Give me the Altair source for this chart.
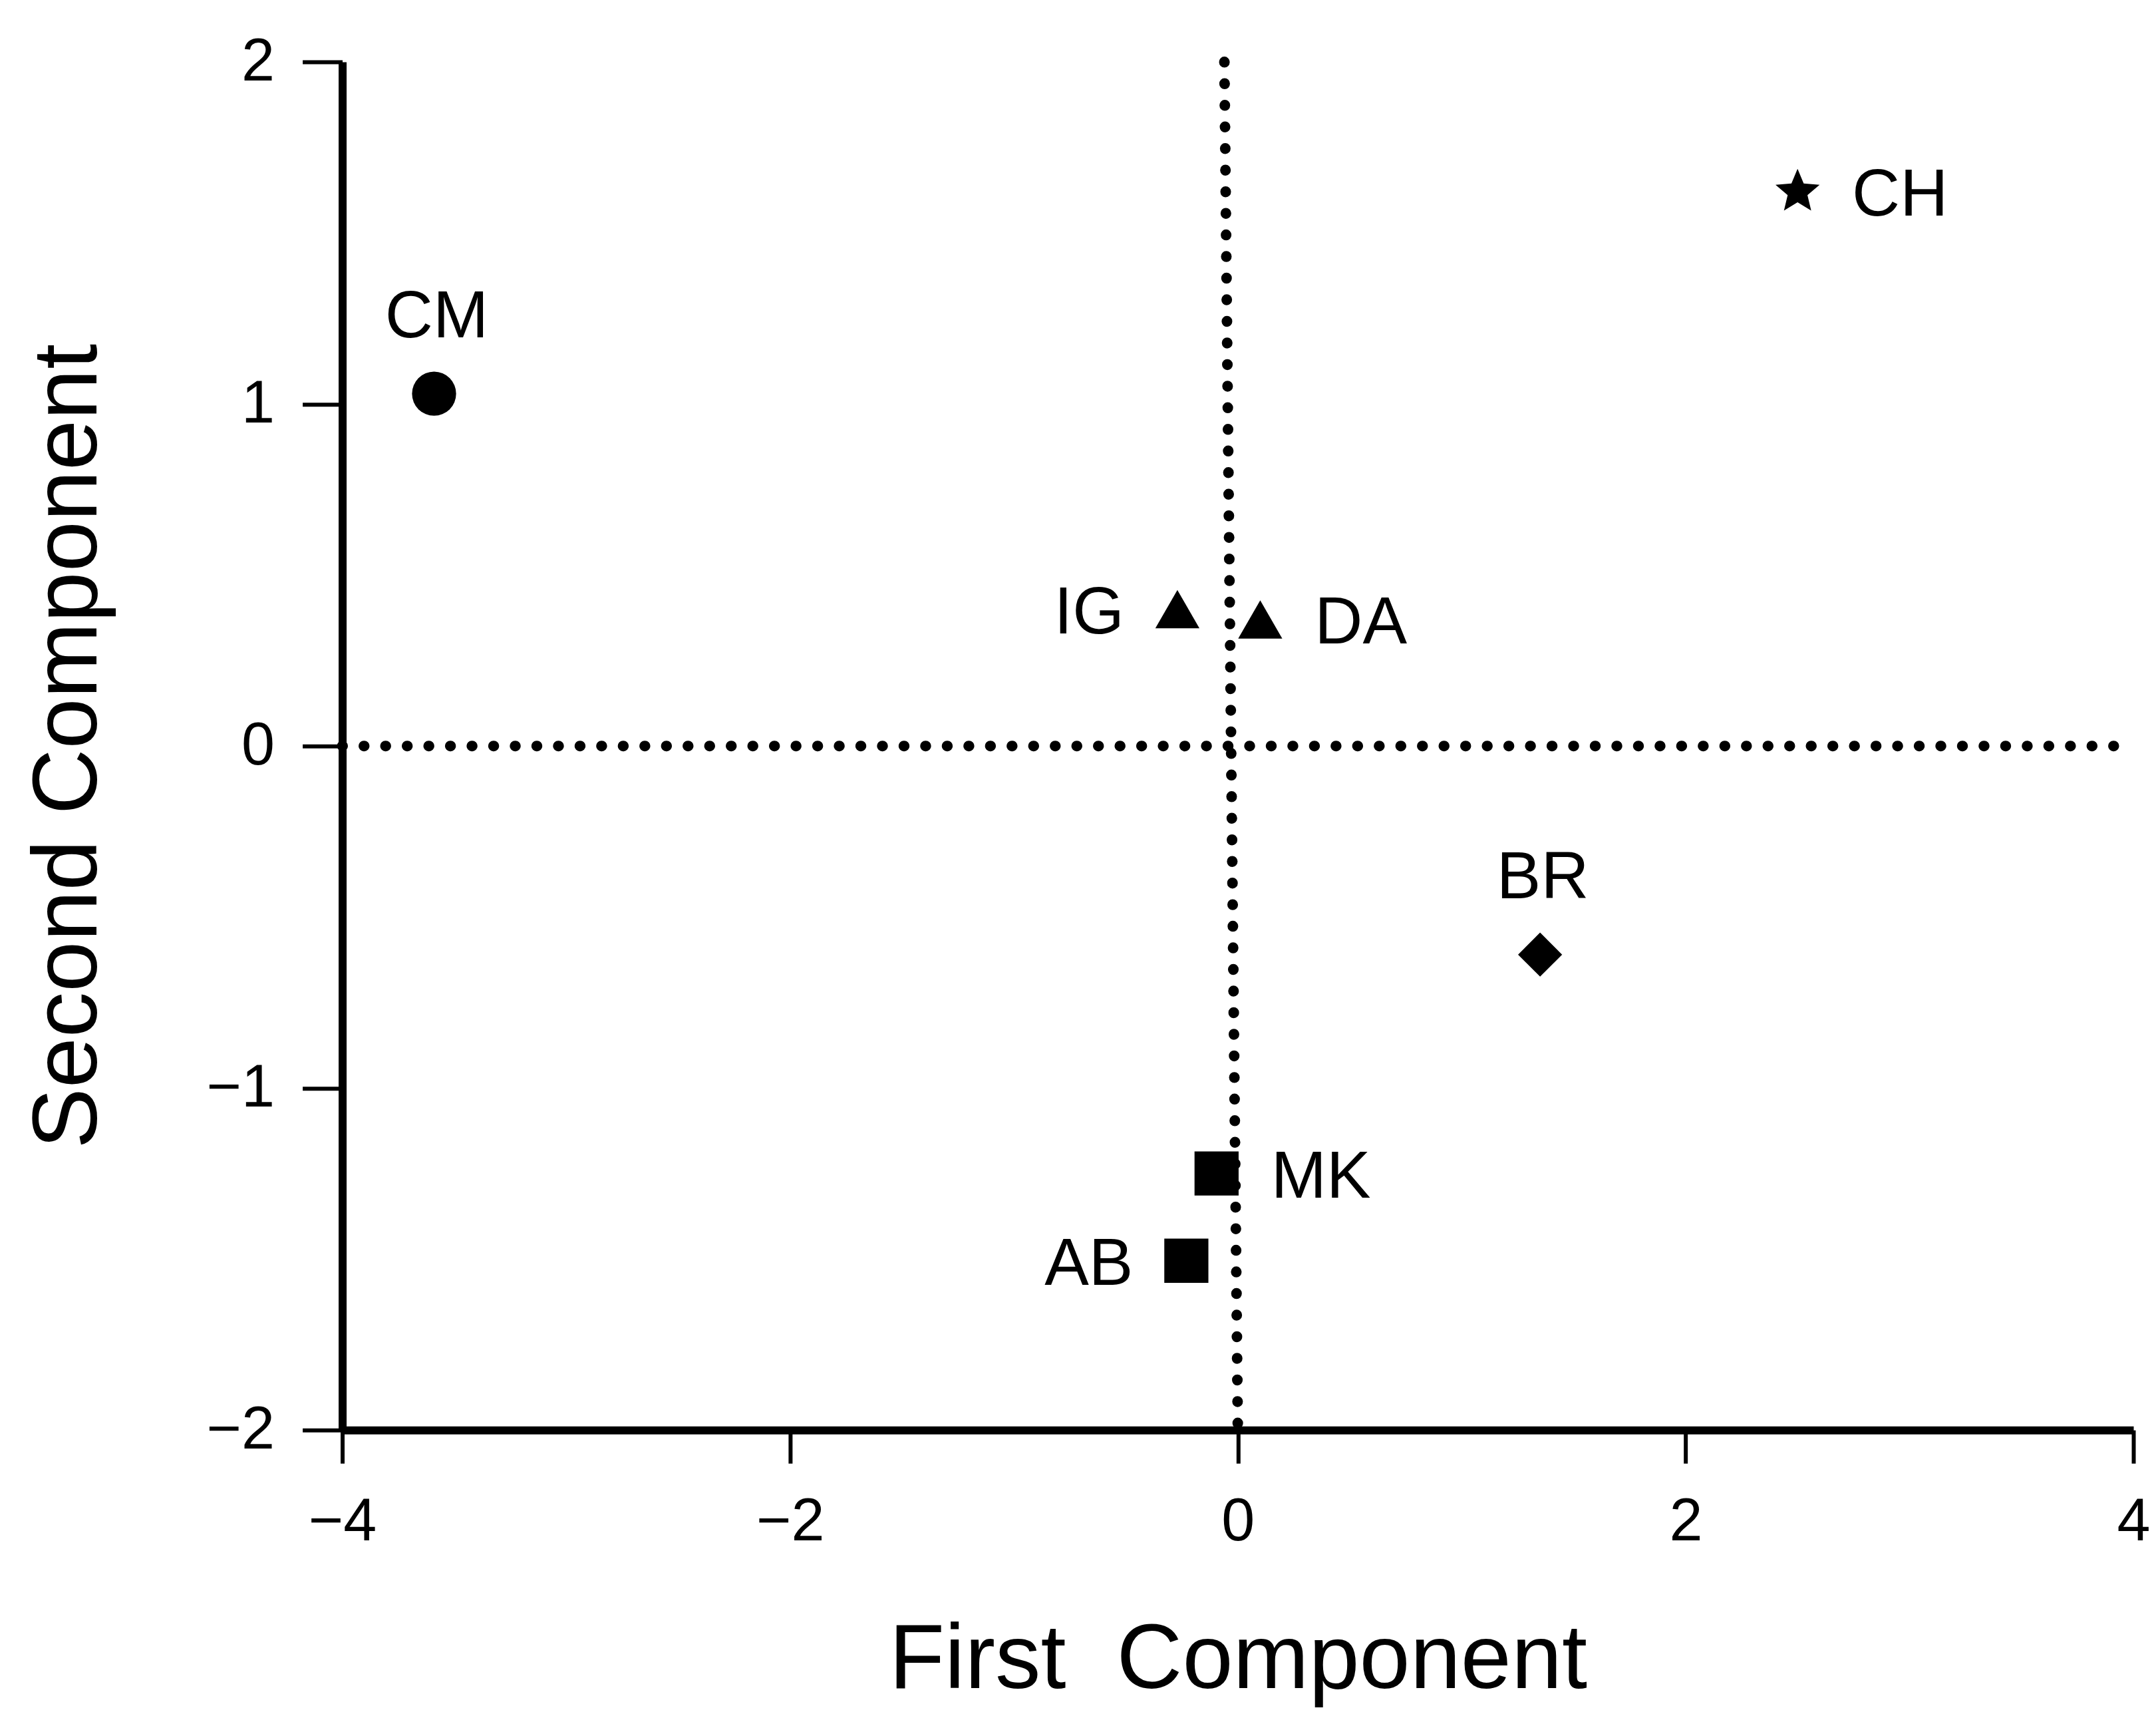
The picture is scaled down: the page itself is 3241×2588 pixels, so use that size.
import altair as alt
import pandas as pd

# ---- data ----
labels = ["CM", "CH", "IG", "DA", "BR", "MK", "AB"]
first_component = [-3.59, 2.50, -0.27, 0.10, 1.35, -0.095, -0.23]
second_component = [1.03, 1.62, 0.40, 0.37, -0.61, -1.25, -1.505]
groups = ["G1", "G2", "G3", "G3", "G4", "G5", "G5"]

x_ticks = [-4, -2, 0, 2, 4]
y_ticks = [-2, -1, 0, 1, 2]

# dotted reference lines (the vertical one is slightly slanted in the original)
vline_x = [-0.06, 0.0]   # x at top, x at bottom
vline_y = [2.0, -2.0]
hline_x = [-4.0, 4.0]
hline_y = [0.0]

# ---- styling ----
FONT = "Liberation Sans"
STAR = ("M0,-1.05L0.278,-0.382L1,-0.324L0.449,0.146L0.617,0.849L0,0.472"
        "L-0.617,0.849L-0.449,0.146L-1,-0.324L-0.278,-0.382Z")
group_domain = ["G1", "G2", "G3", "G4", "G5"]
shape_range = ["circle", STAR, "triangle-up", "diamond", "square"]

df = pd.DataFrame({"label": labels, "x": first_component,
                   "y": second_component, "group": groups})

xscale = alt.Scale(domain=[-4, 4], nice=False, zero=False)
yscale = alt.Scale(domain=[-2, 2], nice=False, zero=False)

x_axis = alt.Axis(values=x_ticks, format="d", title="First\u00a0 Component", grid=False,
                  domainColor="black", domainWidth=12, tickColor="black", tickWidth=6,
                  tickSize=50, labelPadding=44, labelFlush=False, labelOverlap=False,
                  labelFont=FONT, labelFontSize=90, labelColor="black",
                  titleFont=FONT, titleFontSize=137, titleFontWeight="normal",
                  titleColor="black", titleBaseline="alphabetic", titleY=388)
y_axis = alt.Axis(values=y_ticks, format="d", title="Second Component", grid=False,
                  domainColor="black", domainWidth=12, tickColor="black", tickWidth=6,
                  tickSize=60, labelPadding=42, labelFlush=False, labelOverlap=False,
                  labelFont=FONT, labelFontSize=90, labelColor="black",
                  titleFont=FONT, titleFontSize=137, titleFontWeight="normal",
                  titleColor="black", titleBaseline="alphabetic", titleX=-370)


def X(field):
    return alt.X(field, type="quantitative", scale=xscale, axis=x_axis)


def Y(field):
    return alt.Y(field, type="quantitative", scale=yscale, axis=y_axis)


dot_style = dict(color="black", strokeWidth=16, strokeDash=[0.5, 32], strokeCap="round")

hrule = alt.Chart(pd.DataFrame({"x": [hline_x[0]], "x2": [hline_x[1]], "y": hline_y})).mark_rule(
    **dot_style).encode(x=X("x"), x2="x2:Q", y=Y("y"))

vrule = alt.Chart(pd.DataFrame({"x": [vline_x[0]], "x2": [vline_x[1]],
                                "y": [vline_y[0]], "y2": [vline_y[1]]})).mark_rule(
    **dot_style).encode(x=X("x"), x2="x2:Q", y=Y("y"), y2="y2:Q")

points = alt.Chart(df).mark_point(filled=True, opacity=1, color="black", strokeWidth=0,
                                  size=4400).encode(
    x=X("x"), y=Y("y"),
    shape=alt.Shape("group:N", scale=alt.Scale(domain=group_domain, range=shape_range),
                    legend=None),
)

base_text = alt.Chart(df)
txt = dict(font=FONT, fontSize=100, color="black")
above = base_text.mark_text(align="center", baseline="alphabetic", dy=-85, dx=4, **txt).encode(
    x=X("x"), y=Y("y"), text="label:N").transform_filter(
    alt.FieldOneOfPredicate(field="label", oneOf=["CM", "BR"]))
right = base_text.mark_text(align="left", baseline="middle", dx=82, dy=6, **txt).encode(
    x=X("x"), y=Y("y"), text="label:N").transform_filter(
    alt.FieldOneOfPredicate(field="label", oneOf=["CH", "DA", "MK"]))
left = base_text.mark_text(align="right", baseline="middle", dx=-80, dy=6, **txt).encode(
    x=X("x"), y=Y("y"), text="label:N").transform_filter(
    alt.FieldOneOfPredicate(field="label", oneOf=["IG", "AB"]))

chart = alt.layer(hrule, vrule, points, above, right, left).properties(
    width=2695, height=2058,
    autosize=alt.AutoSizeParams(type="none"),
    padding={"left": 507, "top": 84, "right": 26, "bottom": 420},
    background="white",
).configure_view(stroke=None)

chart.save("out.html", embed_options={"renderer": "svg", "actions": False})
